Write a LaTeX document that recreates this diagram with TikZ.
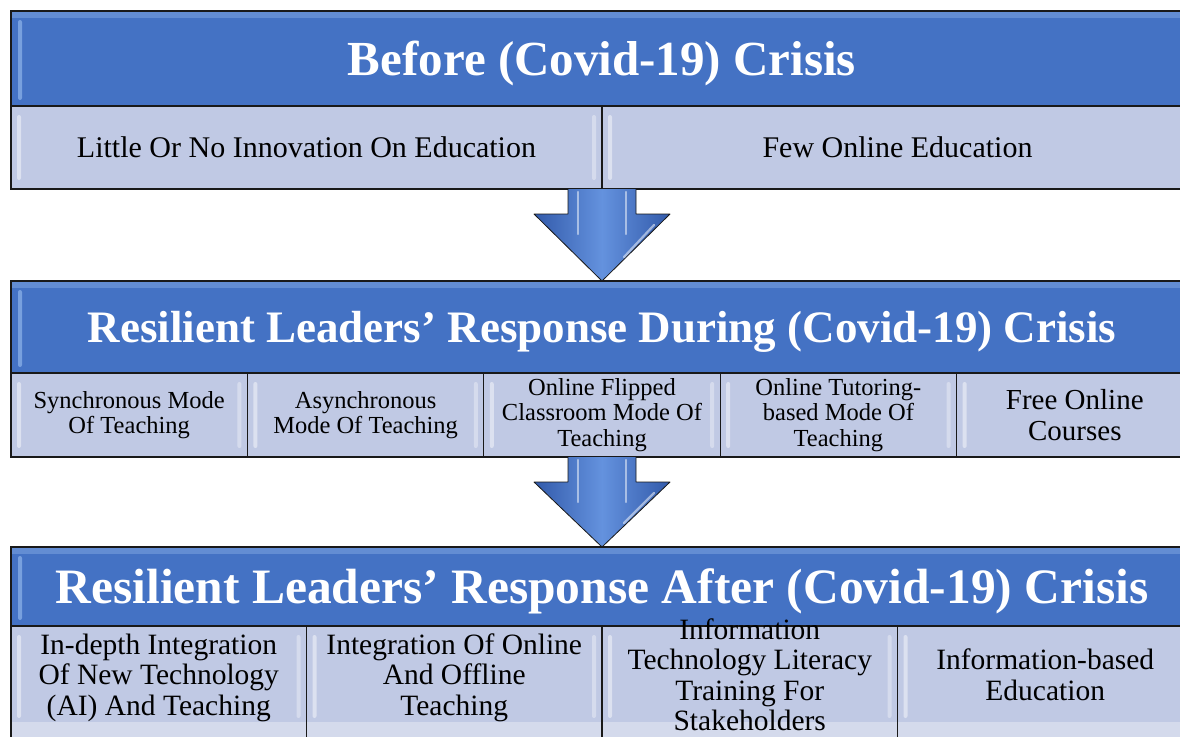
\documentclass[tikz,border=0pt]{standalone}
\usepackage{fontspec}
\setmainfont{Liberation Serif}
\usetikzlibrary{positioning, calc}
\definecolor{HeadColor}{RGB}{68,114,196}
\definecolor{HeadLight}{RGB}{120,160,222}
\definecolor{CellColor}{RGB}{192,201,228}
\definecolor{CellLight}{RGB}{212,218,236}
\definecolor{ArrowDark}{RGB}{50,90,170}
\definecolor{ArrowLight}{RGB}{100,146,222}
\definecolor{FrameColor}{RGB}{25,25,25}
\tikzset{
  gloss/.style={path picture={
    \fill[white, opacity=0.45, rounded corners=2pt]
      ($(path picture bounding box.north west)+(6,9)$) rectangle ($(path picture bounding box.south west)+(10,-9)$);
    \fill[white, opacity=0.35, rounded corners=2pt]
      ($(path picture bounding box.north east)+(-10,9)$) rectangle ($(path picture bounding box.south east)+(-6,-9)$);
  }},
  lowgloss/.style={path picture={
    \fill[CellLight] ($(path picture bounding box.north west)+(0,96)$) rectangle (path picture bounding box.south east);
    \fill[white, opacity=0.45, rounded corners=2pt]
      ($(path picture bounding box.north west)+(6,9)$) rectangle ($(path picture bounding box.north west)+(10,92)$);
    \fill[white, opacity=0.35, rounded corners=2pt]
      ($(path picture bounding box.north east)+(-10,9)$) rectangle ($(path picture bounding box.north east)+(-6,92)$);
  }},
  headgloss/.style={path picture={
    \fill[HeadLight, opacity=0.6]
      (path picture bounding box.north west) rectangle ($(path picture bounding box.north east)+(0,7)$);
    \fill[HeadLight, rounded corners=2pt]
      ($(path picture bounding box.north west)+(7,9)$) rectangle ($(path picture bounding box.south west)+(11,-6)$);
  }},
  headbox/.style={rectangle, draw=FrameColor, line width=1.2pt, fill=HeadColor, text=white,
    inner sep=0pt, outer sep=0pt, text depth=0pt, minimum width=1182pt, headgloss},
  cellbox/.style={rectangle, draw=FrameColor, line width=1.2pt, fill=CellColor, text=black,
    align=center, inner sep=0pt, outer sep=0pt, gloss},
  frame/.style={draw=FrameColor, line width=2.4pt},
  blockarrow/.style={draw=FrameColor, line width=0.8pt, line join=round,
    left color=ArrowDark, right color=ArrowDark, middle color=ArrowLight},
  shine/.style={draw=white, opacity=0.5, line width=2.2pt, line cap=round}
}
\newcommand{\headfont}[1]{\fontsize{#1}{#1}\selectfont\bfseries}
\newcommand{\cellfont}[2]{\fontsize{#1}{#2}\selectfont}
\newcommand{\celltext}[1]{\raisebox{8pt}[0pt][0pt]{\begin{tabular}{@{}c@{}}#1\end{tabular}}}

\begin{document}
\begin{tikzpicture}[x=1pt, y=-1pt]
\useasboundingbox (0,0) rectangle (1180,736);
\clip (0,0) rectangle (1180,736);
\fill[white] (0,0) rectangle (1180,736);

% Before the crisis
\node[headbox, minimum height=95pt, font=\headfont{49}] (before) at (602,58.5) {Before (Covid-19) Crisis};
\node[cellbox, minimum width=591pt, minimum height=83pt, font=\cellfont{30}{34},
  below right=0pt and 0pt of before.south west] (little) {Little Or No Innovation On Education};
\node[cellbox, minimum width=591pt, minimum height=83pt, font=\cellfont{30}{34},
  right=0pt of little] (few) {Few Online Education};
\draw[frame] (before.north west) rectangle (few.south east);

% During the crisis
\node[headbox, minimum height=92pt, font=\headfont{45}] (during) at (602,327) {Resilient Leaders’ Response During (Covid-19) Crisis};
\node[cellbox, minimum width=236.4pt, minimum height=84pt, font=\cellfont{24.5}{25.5},
  below right=0pt and 0pt of during.south west] (sync) {Synchronous Mode\\Of Teaching};
\node[cellbox, minimum width=236.4pt, minimum height=84pt, font=\cellfont{24.5}{25.5},
  right=0pt of sync] (async) {Asynchronous\\Mode Of Teaching};
\node[cellbox, minimum width=236.4pt, minimum height=84pt, font=\cellfont{24.5}{25.5},
  right=0pt of async] (flipped) {Online Flipped\\Classroom Mode Of\\Teaching};
\node[cellbox, minimum width=236.4pt, minimum height=84pt, font=\cellfont{24.5}{25.5},
  right=0pt of flipped] (tutoring) {Online Tutoring-\\based Mode Of\\Teaching};
\node[cellbox, minimum width=236.4pt, minimum height=84pt, font=\cellfont{29}{31},
  right=0pt of tutoring] (free) {Free Online\\Courses};
\draw[frame] (during.north west) rectangle (free.south east);

% After the crisis (runs past the lower edge)
\node[headbox, minimum height=79pt, font=\headfont{49.5}] (after) at (602,586.5) {Resilient Leaders’ Response After (Covid-19) Crisis};
\node[cellbox, lowgloss, minimum width=295.5pt, minimum height=134pt, font=\cellfont{29.5}{30.5},
  below right=0pt and 0pt of after.south west] (indepth) {\celltext{In-depth Integration\\Of New Technology\\(AI) And Teaching}};
\node[cellbox, lowgloss, minimum width=295.5pt, minimum height=134pt, font=\cellfont{29.5}{30.5},
  right=0pt of indepth] (blended) {\celltext{Integration Of Online\\And Offline\\Teaching}};
\node[cellbox, lowgloss, minimum width=295.5pt, minimum height=134pt, font=\cellfont{29.5}{30.5},
  right=0pt of blended] (literacy) {\celltext{Information\\Technology Literacy\\Training For\\Stakeholders}};
\node[cellbox, lowgloss, minimum width=295.5pt, minimum height=134pt, font=\cellfont{29.5}{30.5},
  right=0pt of literacy] (infobased) {\celltext{Information-based\\Education}};
\draw[frame] (after.north west) rectangle (infobased.south east);

% arrows between the stages
\coordinate (a1) at (before.south |- few.south);
\draw[blockarrow] ($(a1)+(-34,0)$) -- ++(0,25) -- ++(-34,0) -- (during.north)
  -- ($(a1)+(68,25)$) -- ($(a1)+(34,25)$) -- ($(a1)+(34,0)$);
\draw[shine] ($(a1)+(-24,3)$) -- ($(a1)+(-24,45)$);
\draw[shine] ($(a1)+(24,3)$) -- ($(a1)+(24,45)$);
\draw[shine] ($(a1)+(52,36)$) -- ($(a1)+(22,68)$);

\coordinate (a2) at (during.south |- free.south);
\draw[blockarrow] ($(a2)+(-34,0)$) -- ++(0,25) -- ++(-34,0) -- (after.north)
  -- ($(a2)+(68,25)$) -- ($(a2)+(34,25)$) -- ($(a2)+(34,0)$);
\draw[shine] ($(a2)+(-24,3)$) -- ($(a2)+(-24,45)$);
\draw[shine] ($(a2)+(24,3)$) -- ($(a2)+(24,45)$);
\draw[shine] ($(a2)+(52,36)$) -- ($(a2)+(22,66)$);
\end{tikzpicture}
\end{document}
